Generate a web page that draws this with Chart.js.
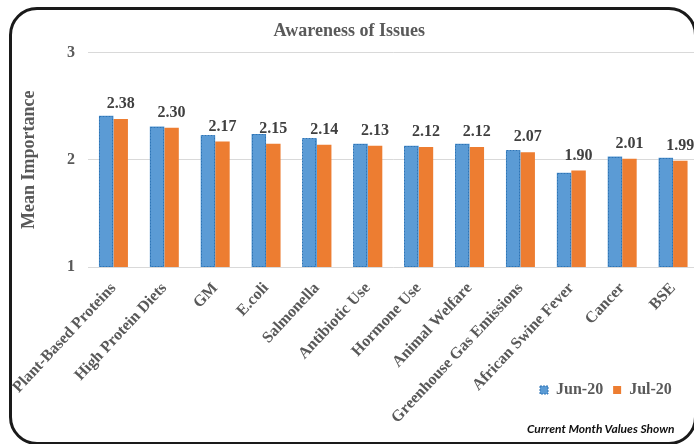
<!DOCTYPE html>
<html>
<head>
<meta charset="utf-8">
<script src="https://cdn.jsdelivr.net/npm/chart.js@4.4.1/dist/chart.umd.min.js"></script>
<style>
  html, body { margin: 0; padding: 0; background: #fff; overflow: hidden; }
  body { width: 694px; height: 444px; position: relative; }
  .frame {
    position: absolute; left: 9px; top: 7px; width: 688px; height: 438px;
    box-sizing: border-box; border: 3px solid #1a1a1a; border-radius: 28px;
  }
  .chart-box { position: absolute; left: 0; top: 0; width: 710px; height: 444px; }
  .note {
    position: absolute; left: 527px; top: 421px;
    font-family: Lato, sans-serif; font-style: italic; font-weight: 700;
    font-size: 12px; color: #111; white-space: nowrap;
  }
</style>
</head>
<body>
<div class="frame"></div>
<div class="chart-box"><canvas id="chart"></canvas></div>
<div class="note">Current Month Values Shown</div>
<script>
const categories = ['Plant-Based Proteins', 'High Protein Diets', 'GM', 'E.coli', 'Salmonella',
  'Antibiotic Use', 'Hormone Use', 'Animal Welfare', 'Greenhouse Gas Emissions',
  'African Swine Fever', 'Cancer', 'BSE'];
const jun20 = [2.41, 2.31, 2.23, 2.24, 2.20, 2.15, 2.13, 2.15, 2.09, 1.88, 2.03, 2.02];
const jul20 = [2.38, 2.30, 2.17, 2.15, 2.14, 2.13, 2.12, 2.12, 2.07, 1.90, 2.01, 1.99];
const yTicks = [1, 2, 3];

const SERIF = '"Liberation Serif", "Times New Roman", serif';
const GREY = '#595959';

// dashed outline on the Jun bars + value labels above the Jul bars
const barExtras = {
  id: 'barExtras',
  beforeLayout(chart) {
    // the legend sits among the rotated labels, so it should not take any room
    const lg = chart.legend;
    if (lg && !lg._noRoom) {
      const fit = lg.fit;
      lg.fit = function () {
        fit.call(this);
        this._realHeight = this.height;
        this.height = 0;
      };
      lg._noRoom = true;
    }
  },
  afterLayout(chart) {
    const lg = chart.legend;
    const w = lg.width;
    lg.left = 530; lg.right = lg.left + w;
    lg.top = 372; lg.bottom = lg.top + lg._realHeight;
  },
  afterDatasetsDraw(chart) {
    const ctx = chart.ctx;
    const bottom = chart.chartArea.bottom;
    ctx.save();
    ctx.strokeStyle = '#2E75B6';
    ctx.lineWidth = 1;
    ctx.setLineDash([2, 1]);
    chart.getDatasetMeta(0).data.forEach(bar => {
      const w = Math.round(bar.width);
      const top = Math.round(bar.y);
      const base = Math.min(bar.base, bottom);
      ctx.strokeRect(Math.round(bar.x - bar.width / 2) + 0.5, top + 0.5, w - 1, base - top - 1);
    });
    ctx.setLineDash([]);
    ctx.fillStyle = '#404040';
    ctx.font = 'bold 16px ' + SERIF;
    ctx.textAlign = 'center';
    ctx.textBaseline = 'middle';
    chart.getDatasetMeta(1).data.forEach((bar, i) => {
      ctx.fillText(jul20[i].toFixed(2), bar.x, bar.y - 15);
    });
    ctx.restore();
  },
};

const ctx = document.getElementById('chart').getContext('2d');
new Chart(ctx, {
  type: 'bar',
  data: {
    labels: categories,
    datasets: [
      {
        label: 'Jun-20',
        data: jun20,
        backgroundColor: '#5B9BD5',
        borderWidth: 0,
      },
      {
        label: 'Jul-20',
        data: jul20,
        backgroundColor: '#ED7D31',
        borderWidth: 0,
      },
    ],
  },
  options: {
    responsive: true,
    maintainAspectRatio: false,
    animation: false,
    layout: { padding: { left: 0, right: 11.5, top: 0, bottom: 0 } },
    datasets: { bar: { categoryPercentage: 0.57, barPercentage: 1 } },
    plugins: {
      title: {
        display: true,
        text: 'Awareness of Issues',
        color: GREY,
        font: { size: 18, weight: 'bold', family: SERIF, lineHeight: 1.2 },
        padding: { top: 21, bottom: 10 },
      },
      legend: {
        position: 'bottom',
        align: 'start',
        labels: {
          color: GREY,
          font: { size: 16, weight: 'bold', family: SERIF },
          boxWidth: 8,
          boxHeight: 8,
          padding: 10,
          generateLabels(chart) {
            return Chart.defaults.plugins.legend.labels.generateLabels(chart).map((l, i) =>
              i === 0 ? { ...l, strokeStyle: '#2E75B6', lineWidth: 1, lineDash: [2, 1] } : l);
          },
        },
      },
      tooltip: { enabled: false },
    },
    scales: {
      x: {
        grid: { display: false },
        border: { display: false },
        ticks: {
          color: GREY,
          maxRotation: 47,
          minRotation: 47,
          padding: 4,
          font: { size: 16, weight: 'bold', family: SERIF },
        },
        afterFit(scale) { scale.height = 177; },
      },
      y: {
        min: 1,
        max: 3,
        afterBuildTicks(scale) { scale.ticks = yTicks.map(v => ({ value: v })); },
        grid: { color: '#D9D9D9', drawTicks: false },
        border: { display: false },
        ticks: {
          color: GREY,
          padding: 13,
          font: { size: 16, weight: 'bold', family: SERIF },
        },
        title: {
          display: true,
          text: 'Mean Importance',
          color: GREY,
          font: { size: 18, weight: 'bold', family: SERIF, lineHeight: 1.2 },
          padding: { top: 19, bottom: 0 },
        },
        afterFit(scale) { scale.width = 88; },
      },
    },
  },
  plugins: [barExtras],
});
</script>
</body>
</html>
